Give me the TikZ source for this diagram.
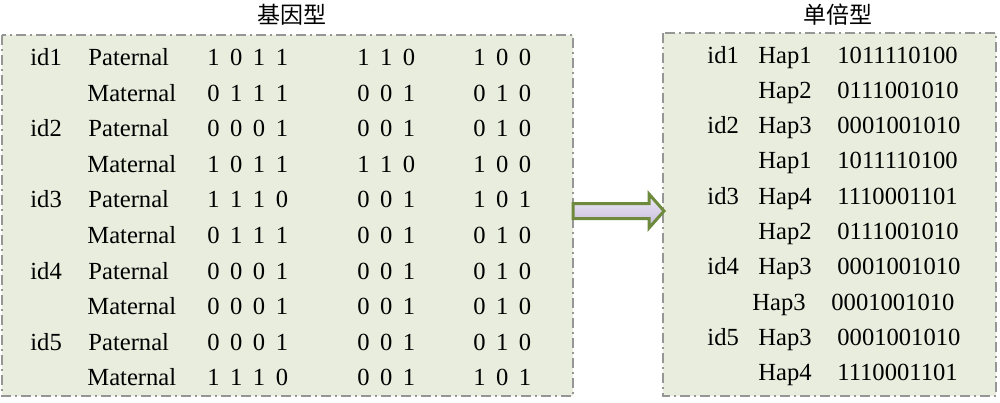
\documentclass[tikz,border=0pt]{standalone}
\usepackage{fontspec}
\setmainfont{Liberation Serif}
\newfontfamily\cjk{Noto Sans CJK SC}
\usetikzlibrary{calc}
\definecolor{boxfill}{RGB}{233,237,222}
\definecolor{boxline}{RGB}{150,150,150}
\definecolor{arrowline}{RGB}{110,139,61}
\definecolor{arrowtop}{RGB}{238,234,246}
\definecolor{arrowbot}{RGB}{196,186,220}
\newcommand\bitsp{\spaceskip 5.25pt\relax}
\tikzset{
	txt/.style={anchor=base west, inner sep=0pt, font=\fontsize{12.3}{14}\selectfont},
	bits/.style={txt, font=\fontsize{12.3}{14}\selectfont\bitsp},
	title/.style={inner sep=0pt, font=\cjk\fontsize{11.5}{13}\selectfont},
	panel/.style={draw=boxline, fill=boxfill, line width=1pt, dash pattern=on 5pt off 2pt on 1pt off 2pt}
}

\begin{document}
\begin{tikzpicture}[x=0.5pt, y=-0.5pt]
			%%%%% START %%%%%
			\useasboundingbox (0, 0) rectangle (1000, 402);
			
			\draw[panel] (2, 35) rectangle (573, 396);
			\draw[panel] (663, 33) rectangle (996, 396);
			
			\node[title] (geno) at (292, 15) {基因型};
			\node[title] (hapl) at (838, 15) {单倍型};
			
			% genotypes
			\node[txt] (id1) at (30, 65.5) {id1};
			\node[txt] (p1) at (88, 65.5) {Paternal};
			\node[bits] (p1a) at (207, 65.5) {1 0 1 1};
			\node[bits] (p1b) at (357, 65.5) {1 1 0};
			\node[bits] (p1c) at (473, 65.5) {1 0 0};
			\node[txt] (m1) at (87, 101.1) {Maternal};
			\node[bits] (m1a) at (207, 101.1) {0 1 1 1};
			\node[bits] (m1b) at (357, 101.1) {0 0 1};
			\node[bits] (m1c) at (473, 101.1) {0 1 0};
			
			\node[txt] (id2) at (30, 136.7) {id2};
			\node[txt] (p2) at (88, 136.7) {Paternal};
			\node[bits] (p2a) at (207, 136.7) {0 0 0 1};
			\node[bits] (p2b) at (357, 136.7) {0 0 1};
			\node[bits] (p2c) at (473, 136.7) {0 1 0};
			\node[txt] (m2) at (87, 172.3) {Maternal};
			\node[bits] (m2a) at (207, 172.3) {1 0 1 1};
			\node[bits] (m2b) at (357, 172.3) {1 1 0};
			\node[bits] (m2c) at (473, 172.3) {1 0 0};
			
			\node[txt] (id3) at (30, 207.9) {id3};
			\node[txt] (p3) at (88, 207.9) {Paternal};
			\node[bits] (p3a) at (207, 207.9) {1 1 1 0};
			\node[bits] (p3b) at (357, 207.9) {0 0 1};
			\node[bits] (p3c) at (473, 207.9) {1 0 1};
			\node[txt] (m3) at (87, 243.5) {Maternal};
			\node[bits] (m3a) at (207, 243.5) {0 1 1 1};
			\node[bits] (m3b) at (357, 243.5) {0 0 1};
			\node[bits] (m3c) at (473, 243.5) {0 1 0};
			
			\node[txt] (id4) at (30, 279.1) {id4};
			\node[txt] (p4) at (88, 279.1) {Paternal};
			\node[bits] (p4a) at (207, 279.1) {0 0 0 1};
			\node[bits] (p4b) at (357, 279.1) {0 0 1};
			\node[bits] (p4c) at (473, 279.1) {0 1 0};
			\node[txt] (m4) at (87, 314.7) {Maternal};
			\node[bits] (m4a) at (207, 314.7) {0 0 0 1};
			\node[bits] (m4b) at (357, 314.7) {0 0 1};
			\node[bits] (m4c) at (473, 314.7) {0 1 0};
			
			\node[txt] (id5) at (30, 350.3) {id5};
			\node[txt] (p5) at (88, 350.3) {Paternal};
			\node[bits] (p5a) at (207, 350.3) {0 0 0 1};
			\node[bits] (p5b) at (357, 350.3) {0 0 1};
			\node[bits] (p5c) at (473, 350.3) {0 1 0};
			\node[txt] (m5) at (87, 385.9) {Maternal};
			\node[bits] (m5a) at (207, 385.9) {1 1 1 0};
			\node[bits] (m5b) at (357, 385.9) {0 0 1};
			\node[bits] (m5c) at (473, 385.9) {1 0 1};
			
			% haplotypes
			\node[txt] (hid1) at (707, 63) {id1};
			\node[txt] (h1) at (758, 63) {Hap1};
			\node[txt] (s1) at (837, 63) {1011110100};
			\node[txt] (h2) at (758, 98.3) {Hap2};
			\node[txt] (s2) at (837, 98.3) {0111001010};
			\node[txt] (hid2) at (707, 133.6) {id2};
			\node[txt] (h3) at (758, 133.6) {Hap3};
			\node[txt] (s3) at (837, 133.6) {0001001010};
			\node[txt] (h4) at (758, 168.9) {Hap1};
			\node[txt] (s4) at (837, 168.9) {1011110100};
			\node[txt] (hid3) at (707, 204.2) {id3};
			\node[txt] (h5) at (758, 204.2) {Hap4};
			\node[txt] (s5) at (837, 204.2) {1110001101};
			\node[txt] (h6) at (758, 239.5) {Hap2};
			\node[txt] (s6) at (837, 239.5) {0111001010};
			\node[txt] (hid4) at (707, 274.8) {id4};
			\node[txt] (h7) at (758, 274.8) {Hap3};
			\node[txt] (s7) at (837, 274.8) {0001001010};
			\node[txt] (h8) at (752, 310.1) {Hap3};
			\node[txt] (s8) at (831, 310.1) {0001001010};
			\node[txt] (hid5) at (707, 345.4) {id5};
			\node[txt] (h9) at (758, 345.4) {Hap3};
			\node[txt] (s9) at (837, 345.4) {0001001010};
			\node[txt] (h10) at (758, 380.7) {Hap4};
			\node[txt] (s10) at (837, 380.7) {1110001101};
			
			% block arrow
			\draw[line width=1.5pt, color=arrowline, top color=arrowtop, bottom color=arrowbot, line join=miter]
				(573, 203.5) -- (649, 203.5) -- (649, 194) -- (664, 211) -- (649, 228) -- (649, 218.5) -- (573, 218.5) -- cycle;
			
			%%%%% END %%%%%
\end{tikzpicture}
\end{document}
